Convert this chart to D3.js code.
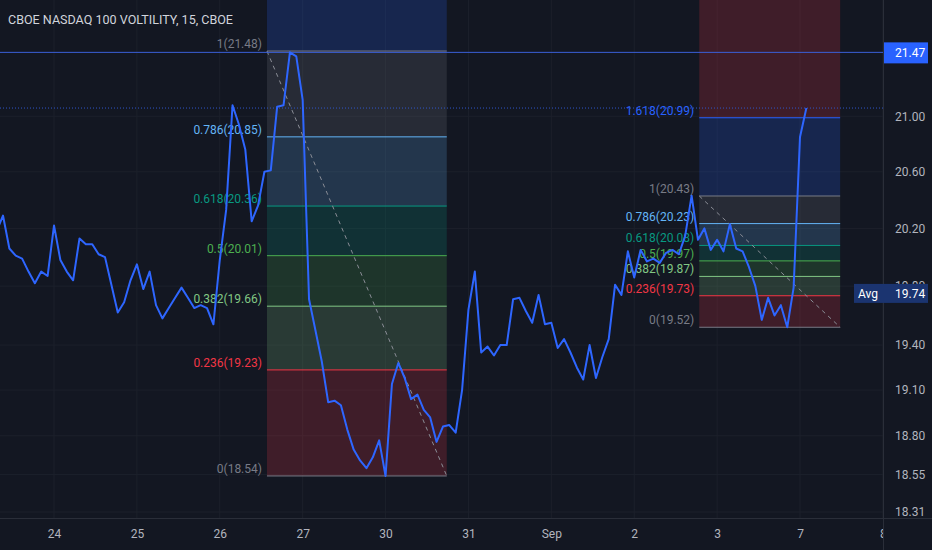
<!DOCTYPE html>
<html>
<head>
  <title>CBOE NASDAQ 100 VOLTILITY, 15</title>
  <style>
    body { margin: 0; background: #131722; }
    text { font-family: Roboto, "Noto Sans", sans-serif; }
  </style>
</head>
<body>
<div id="chart"></div>
<script type="text/javascript" src="https://d3js.org/d3.v7.min.js"></script>
<script type="text/javascript">
// session labels on the time axis (13 half-hour samples per session)
var days = ["24", "25", "26", "27", "30", "31", "Sep", "2", "3", "7", "8"];
var barsPerDay = 13;
var firstBar = 4;   // series starts at bar 4 of the session before "24"

// VXN closes, every half hour
var vxn = [20.18, 20.29, 20.06, 20.01, 19.99, 19.90, 19.82, 19.90, 19.87, 20.22,
           19.98, 19.90, 19.84, 20.13, 20.09, 20.09, 20.02, 20.00, 19.81, 19.62,
           19.69, 19.84, 19.95, 19.78, 19.90, 19.67, 19.58, 19.65, 19.72, 19.79,
           19.72, 19.65, 19.67, 19.65, 19.54, 19.98, 20.33, 21.08, 20.94, 20.76,
           20.25, 20.36, 20.60, 20.61, 21.07, 21.08, 21.47, 21.44, 21.12, 19.71,
           19.50, 19.29, 19.02, 19.03, 19.00, 18.84, 18.71, 18.64, 18.59, 18.66,
           18.77, 18.54, 19.14, 19.28, 19.18, 19.04, 19.07, 18.97, 18.92, 18.76,
           18.86, 18.87, 18.82, 19.10, 19.64, 19.90, 19.35, 19.39, 19.33, 19.40,
           19.40, 19.71, 19.72, 19.63, 19.55, 19.74, 19.54, 19.55, 19.38, 19.44,
           19.35, 19.25, 19.17, 19.40, 19.18, 19.32, 19.44, 19.81, 19.74, 20.04,
           19.86, 20.05, 19.97, 19.99, 19.96, 20.03, 20.05, 20.02, 20.15, 20.43,
           20.12, 20.20, 20.05, 20.12, 20.04, 20.23, 20.06, 20.04, 19.93, 19.80,
           19.57, 19.72, 19.60, 19.67, 19.52, 19.79, 20.85, 21.06];

var yTicks = [21.00, 20.60, 20.20, 19.80, 19.40, 19.10, 18.80, 18.55, 18.31];

var fibLevels = [0, 0.236, 0.382, 0.5, 0.618, 0.786, 1, 1.618, 2.618];
var fibColors = ["#787b86", "#f23645", "#81c784", "#4caf50", "#089981",
                 "#64b5f6", "#787b86", "#2962ff", "#f23645"];

// two retracements: anchor bars and prices
var fibLeft = {fromBar: 46.4, toBar: 74.6, high: 21.48, low: 18.54};
var fibRight = {fromBar: 114.2, toBar: 136.3, high: 20.428, low: 19.52};

var highMark = 21.47;
var avgMark = 19.74;

var W = 932, H = 550;
var plotW = 883, plotH = 518;

var svg = d3.select("#chart").append("svg")
            .attr("width", W)
            .attr("height", H);

svg.append("rect").attr("width", W).attr("height", H).attr("fill", "#131722");

svg.append("clipPath").attr("id", "plot")
   .append("rect").attr("width", plotW).attr("height", plotH);

var x = d3.scaleLinear()
          .domain([barsPerDay, barsPerDay * 10])
          .range([54, 800]);

var y = d3.scaleLog()
          .domain([21.863, 18.272])
          .range([0, plotH]);

var dayBars = days.map(function (d, i) { return barsPerDay * (i + 1); });

// grid
var grid = svg.append("g").attr("clip-path", "url(#plot)");
grid.selectAll(null).data(dayBars).join("line")
    .attr("x1", function (d) { return x(d); })
    .attr("x2", function (d) { return x(d); })
    .attr("y1", 0).attr("y2", plotH)
    .attr("stroke", "#1c202b");
grid.selectAll(null).data(yTicks).join("line")
    .attr("x1", 0).attr("x2", plotW)
    .attr("y1", function (d) { return y(d); })
    .attr("y2", function (d) { return y(d); })
    .attr("stroke", "#1c202b");

var plot = svg.append("g").attr("clip-path", "url(#plot)");

function drawFib(f) {
  var x0 = x(f.fromBar), x1 = x(f.toBar);
  var lv = fibLevels.map(function (r, i) {
    return {r: r, c: fibColors[i], v: f.low + r * (f.high - f.low)};
  });

  plot.selectAll(null).data(lv.slice(1)).join("rect")
      .attr("x", x0)
      .attr("width", x1 - x0)
      .attr("y", function (d) { return y(d.v); })
      .attr("height", function (d, i) { return y(lv[i].v) - y(d.v); })
      .attr("fill", function (d) { return d.c; })
      .attr("fill-opacity", 0.2);

  plot.selectAll(null).data(lv).join("line")
      .attr("x1", x0).attr("x2", x1)
      .attr("y1", function (d) { return y(d.v); })
      .attr("y2", function (d) { return y(d.v); })
      .attr("stroke", function (d) { return d.c; })
      .attr("stroke-width", 1);

  plot.append("line")
      .attr("x1", x0).attr("y1", y(f.high))
      .attr("x2", x1).attr("y2", y(f.low))
      .attr("stroke", "#8a8d96")
      .attr("stroke-dasharray", "4,4");

  plot.selectAll(null)
      .data(lv.filter(function (d) { return y(d.v) > 10; }))
      .join("text")
      .attr("x", x0 - 5)
      .attr("y", function (d) { return y(d.v) - 3; })
      .attr("text-anchor", "end")
      .attr("font-size", "12px")
      .attr("fill", function (d) { return d.c; })
      .text(function (d) { return d.r + "(" + d.v.toFixed(2) + ")"; });
}

drawFib(fibLeft);
drawFib(fibRight);

// high line and last price line
plot.append("line")
    .attr("x1", 0).attr("x2", plotW)
    .attr("y1", y(highMark)).attr("y2", y(highMark))
    .attr("stroke", "#3a5fd9");
var last = vxn[vxn.length - 1];
plot.append("line")
    .attr("x1", 0).attr("x2", plotW)
    .attr("y1", y(last)).attr("y2", y(last))
    .attr("stroke", "#2f55c8")
    .attr("stroke-dasharray", "1,2");

// series
var line = d3.line()
             .x(function (d, i) { return x(i + firstBar); })
             .y(function (d) { return y(d); });
plot.append("path")
    .datum(vxn)
    .attr("d", line)
    .attr("fill", "none")
    .attr("stroke", "#2e66ff")
    .attr("stroke-width", 2)
    .attr("stroke-linejoin", "round");

// axes borders
svg.append("line").attr("x1", plotW + 0.5).attr("x2", plotW + 0.5)
   .attr("y1", 0).attr("y2", H).attr("stroke", "#2a2e39");
svg.append("line").attr("x1", 0).attr("x2", W)
   .attr("y1", plotH + 0.5).attr("y2", plotH + 0.5).attr("stroke", "#2a2e39");

var yAxis = svg.append("g")
               .attr("transform", "translate(" + plotW + ",0)")
               .call(d3.axisRight(y).tickValues(yTicks).tickFormat(d3.format(".2f"))
                       .tickSize(0).tickPadding(12));
yAxis.select(".domain").remove();
yAxis.selectAll("text").attr("fill", "#b2b5be").attr("font-size", "12px")
     .attr("font-family", "Roboto, 'Noto Sans', sans-serif");

var xAxisClip = svg.append("clipPath").attr("id", "xclip")
                   .append("rect").attr("width", plotW).attr("height", H);
var xAxis = svg.append("g")
               .attr("clip-path", "url(#xclip)")
               .attr("transform", "translate(0," + plotH + ")")
               .call(d3.axisBottom(x).tickValues(dayBars)
                       .tickFormat(function (d, i) { return days[i]; })
                       .tickSize(0).tickPadding(11));
xAxis.select(".domain").remove();
xAxis.selectAll("text").attr("fill", "#b2b5be").attr("font-size", "12px")
     .attr("font-family", "Roboto, 'Noto Sans', sans-serif");

// price labels on the right scale
svg.append("rect")
   .attr("x", plotW + 1).attr("y", y(highMark) - 10)
   .attr("width", 44).attr("height", 21)
   .attr("fill", "#2962ff");
svg.append("text")
   .attr("x", plotW + 12).attr("y", y(highMark) + 4.5)
   .attr("font-size", "12px").attr("fill", "#ffffff")
   .text(highMark.toFixed(2));

var avgY = y(avgMark) - 1.5;
svg.append("rect")
   .attr("x", 854).attr("y", avgY - 9.5)
   .attr("width", 74).attr("height", 19)
   .attr("fill", "#1b3470");
svg.append("text")
   .attr("x", 868).attr("y", avgY + 4.5)
   .attr("text-anchor", "middle")
   .attr("font-size", "12px").attr("fill", "#ffffff")
   .text("Avg");
svg.append("text")
   .attr("x", plotW + 12).attr("y", avgY + 4.5)
   .attr("font-size", "12px").attr("fill", "#ffffff")
   .text(avgMark.toFixed(2));

// title
svg.append("text")
   .attr("x", 8).attr("y", 24)
   .attr("font-size", "13px")
   .attr("fill", "#d1d4dc")
   .attr("textLength", 225)
   .attr("lengthAdjust", "spacingAndGlyphs")
   .text("CBOE NASDAQ 100 VOLTILITY, 15, CBOE");
</script>
</body>
</html>
